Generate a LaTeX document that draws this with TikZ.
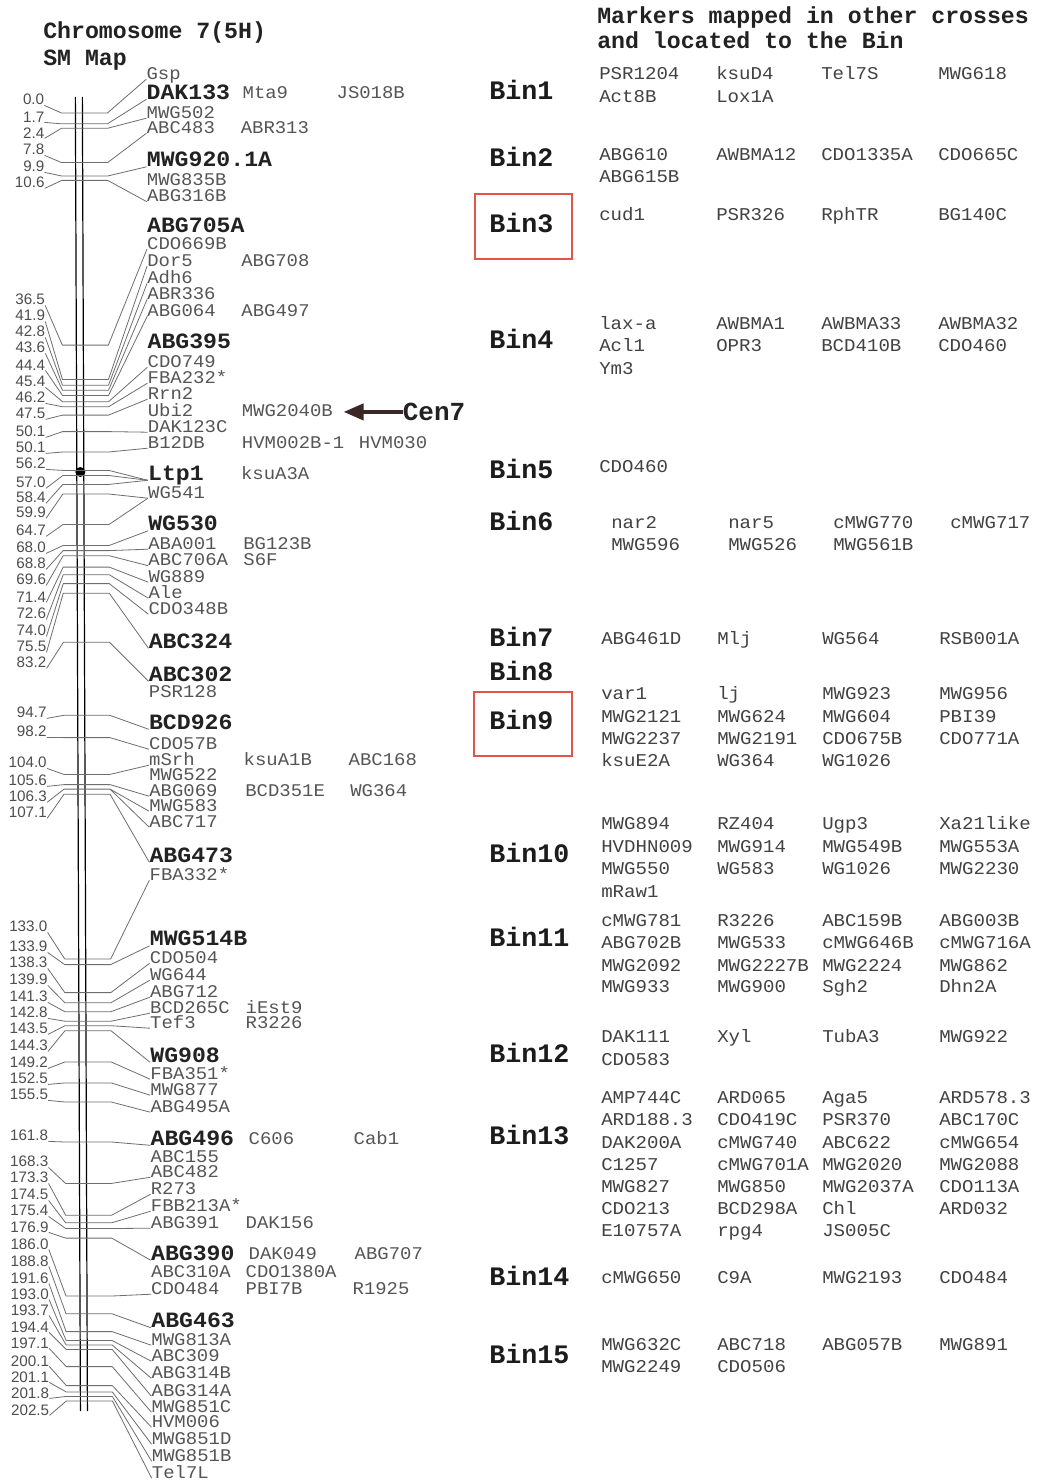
\documentclass[tikz,border=0pt]{standalone}
\usepackage{fontspec}
\setmainfont{Liberation Mono}
\newfontfamily\mapfont[FakeStretch=1.06]{Liberation Mono}
\newfontfamily\sansnum{Liberation Sans}
\usetikzlibrary{arrows.meta}
\definecolor{mapgray}{HTML}{555555}
\definecolor{mapdark}{HTML}{222222}
\definecolor{leadgray}{HTML}{6E6E6E}
\definecolor{numgray}{HTML}{4E4E4E}
\definecolor{rgray}{HTML}{424242}
\definecolor{bindark}{HTML}{1C1C1C}
\definecolor{boxred}{HTML}{E2554A}
\definecolor{arrowbrown}{HTML}{3B2725}
\tikzset{
  num/.style={font=\sansnum\fontsize{11.4}{12}\selectfont, text=numgray, anchor=south east, inner sep=0pt},
  nm/.style={font=\mapfont\fontsize{13.4}{14}\selectfont, text=mapgray, anchor=base west, inner sep=0pt},
  nmb/.style={font=\mapfont\bfseries\fontsize{16.4}{17}\selectfont, text=mapdark, anchor=base west, inner sep=0pt},
  lead/.style={draw=leadgray, line width=0.6pt, line join=round},
  chrom/.style={draw=black, line width=0.9pt},
  rt/.style={font=\mapfont\fontsize{13.5}{14}\selectfont, text=rgray, anchor=base west, inner sep=0pt},
  binlab/.style={font=\bfseries\fontsize{20}{21}\selectfont, text=bindark, anchor=base west, inner sep=0pt},
  head/.style={font=\bfseries\fontsize{17.4}{18}\selectfont, text=mapdark, anchor=base west, inner sep=0pt},
  cenlab/.style={font=\bfseries\fontsize{19.5}{20}\selectfont, text=mapdark, anchor=base west, inner sep=0pt},
  redbox/.style={draw=boxred, line width=1.2pt},
}
\newcommand\MkN[3]{\node[nm] (#1) at (146,#3+5.2) {#2};}
\newcommand\MkB[3]{\node[nmb] (#1) at (146,#3+6.3) {#2};}
\newcommand\MkX[4]{\node[nm] (#1) at (#3,#4+5.2) {#2};}
\newcommand\MkT[5]{\node[num] (#1) at (44,#3+5.4) {#2};
  \draw[lead] (#1.south east) -- (61,#4) -- (107,#4) -- (#5.base west);}
\newcommand\BinL[3]{\node[binlab] (#1) at (489,#3+7.6) {#2};}
\newcommand\RRow[3]{\foreach \xx/\mt [count=\ii] in {#3} {\node[rt] (#1-\ii) at (\xx,#2+5.3) {\mt};}}
\begin{document}
\begin{tikzpicture}[x=0.75pt,y=-0.75pt]
\useasboundingbox (0,0) rectangle (1036,1480);
\fill[white] (0,0) rectangle (1036,1480);
% titles
\node[head] (c1) at (43,39) {Chromosome 7(5H)};
\node[head] (c2) at (43,66) {SM Map};
\node[head] (h1) at (597,24) {Markers mapped in other crosses};
\node[head] (h2) at (597,49) {and located to the Bin};
\begin{scope}[xslant=-0.00385]
% chromosome
\draw[chrom] (75,97) -- (75,1411);
\draw[chrom] (82,97) -- (82,1411);
\fill[black] (78.5,472) circle[radius=5];
% marker names
\MkN{Gsp}{Gsp}{74}
\MkB{DAK133}{DAK133}{93}
\MkX{Mta9}{Mta9}{242}{93}
\MkX{JS018B}{JS018B}{336}{93}
\MkN{MWG502}{MWG502}{113}
\MkN{ABC483}{ABC483}{128}
\MkX{ABR313}{ABR313}{240}{128}
\MkB{MWG920}{MWG920.1A}{160.5}
\MkN{MWG835B}{MWG835B}{180}
\MkN{ABG316B}{ABG316B}{196.5}
\MkB{ABG705A}{ABG705A}{226}
\MkN{CDO669B}{CDO669B}{244}
\MkN{Dor5}{Dor5}{261}
\MkX{ABG708}{ABG708}{240}{261}
\MkN{Adh6}{Adh6}{278}
\MkN{ABR336}{ABR336}{294}
\MkN{ABG064}{ABG064}{311}
\MkX{ABG497}{ABG497}{240}{311}
\MkB{ABG395}{ABG395}{342.5}
\MkN{CDO749}{CDO749}{362}
\MkN{FBAa}{FBA232*}{378}
\MkN{Rrn2}{Rrn2}{394}
\MkN{Ubi2}{Ubi2}{411}
\MkX{MWG2040B}{MWG2040B}{240}{411}
\MkN{DAK123C}{DAK123C}{427}
\MkN{B12DB}{B12DB}{443}
\MkX{HVM002B}{HVM002B-1}{240}{443}
\MkX{HVM030}{HVM030}{357}{443}
\MkB{Ltp1}{Ltp1}{474}
\MkX{ksuA3A}{ksuA3A}{239}{474}
\MkN{WG541}{WG541}{493}
\MkB{WG530}{WG530}{524.5}
\MkN{ABA001}{ABA001}{544}
\MkX{BG123B}{BG123B}{241}{544}
\MkN{ABC706A}{ABC706A}{560.5}
\MkX{S6F}{S6F}{241}{560.5}
\MkN{WG889}{WG889}{577}
\MkN{Ale}{Ale}{593}
\MkN{CDO348B}{CDO348B}{609}
\MkB{ABC324}{ABC324}{642}
\MkB{ABC302}{ABC302}{675}
\MkN{PSR128}{PSR128}{692.5}
\MkB{BCD926}{BCD926}{723}
\MkN{CDO57B}{CDO57B}{744}
\MkN{mSrh}{mSrh}{760}
\MkX{ksuA1B}{ksuA1B}{240.5}{760}
\MkX{ABC168}{ABC168}{345.5}{760}
\MkN{MWG522}{MWG522}{775}
\MkN{ABG069}{ABG069}{791}
\MkX{BCD351E}{BCD351E}{242}{791}
\MkX{WGt364}{WG364}{347}{791}
\MkN{MWG583}{MWG583}{806}
\MkN{ABC717}{ABC717}{822}
\MkB{ABG473}{ABG473}{856}
\MkN{FBAb}{FBA332*}{875}
\MkB{MWG514B}{MWG514B}{939.5}
\MkN{CDO504}{CDO504}{958}
\MkN{WG644}{WG644}{975}
\MkN{ABG712}{ABG712}{992}
\MkN{BCD265C}{BCD265C}{1008}
\MkX{iEst9}{iEst9}{241.5}{1008}
\MkN{Tef3}{Tef3}{1023}
\MkX{R3226m}{R3226}{241.5}{1023}
\MkB{WG908}{WG908}{1056}
\MkN{FBAc}{FBA351*}{1074}
\MkN{MWG877}{MWG877}{1090}
\MkN{ABG495A}{ABG495A}{1107}
\MkB{ABG496}{ABG496}{1139}
\MkX{C606}{C606}{244}{1139}
\MkX{Cab1}{Cab1}{349}{1139}
\MkN{ABC155}{ABC155}{1157}
\MkN{ABC482}{ABC482}{1172}
\MkN{R273}{R273}{1189}
\MkN{FBB213A}{FBB213A*}{1206}
\MkN{ABG391}{ABG391}{1223}
\MkX{DAK156}{DAK156}{240.7}{1223}
\MkB{ABG390}{ABG390}{1254}
\MkX{DAK049}{DAK049}{243.6}{1254}
\MkX{ABG707}{ABG707}{349.6}{1254}
\MkN{ABC310A}{ABC310A}{1272}
\MkX{CDO1380A}{CDO1380A}{240.5}{1272}
\MkN{CDO484}{CDO484}{1289}
\MkX{PBI7B}{PBI7B}{240.5}{1289}
\MkX{R1925}{R1925}{347.4}{1289}
\MkB{ABG463}{ABG463}{1321.5}
\MkN{MWG813A}{MWG813A}{1340}
\MkN{ABC309}{ABC309}{1356}
\MkN{ABG314B}{ABG314B}{1373}
\MkN{ABG314A}{ABG314A}{1391}
\MkN{MWG851C}{MWG851C}{1407}
\MkN{HVM006}{HVM006}{1422}
\MkN{MWG851D}{MWG851D}{1439}
\MkN{MWG851B}{MWG851B}{1456}
\MkN{Tel7L}{Tel7L}{1473}
% ticks and leaders
\MkT{t1}{0.0}{100}{113}{Gsp}
\MkT{t2}{1.7}{117}{123.8}{DAK133}
\MkT{t3}{2.4}{133}{128.3}{MWG502}
\MkT{t4}{7.8}{150}{162.6}{ABC483}
\MkT{t5}{9.9}{167}{176}{MWG920}
\MkT{t6}{10.6}{183}{180.4}{ABG316B}
\MkT{t7}{36.5}{300}{345.1}{CDO669B}
\MkT{t8}{41.9}{316}{379.5}{Dor5}
\MkT{t9}{42.8}{332}{385.2}{Adh6}
\MkT{t10}{43.6}{348}{390.3}{ABR336}
\MkT{t11}{44.4}{365}{395.4}{ABG064}
\MkT{t12}{45.4}{382}{401.7}{CDO749}
\MkT{t13}{46.2}{398}{406.8}{FBAa}
\MkT{t14}{47.5}{414}{415.1}{Rrn2}
\MkT{t15}{50.1}{432}{431.6}{DAK123C}
\MkT{t16}{50.1}{448}{452}{B12DB}
\MkT{t17}{56.2}{464}{470.4}{Ltp1}
\MkT{t18}{57.0}{483}{475.5}{Ltp1}
\MkT{t19}{58.4}{498}{484.4}{Ltp1}
\MkT{t20}{59.9}{513}{494}{WG541}
\MkT{t21}{64.7}{531}{524.5}{WG541}
\MkT{t22}{68.0}{548}{545.5}{WG530}
\MkT{t23}{68.8}{564}{550.6}{ABA001}
\MkT{t24}{69.6}{580}{555.7}{ABC706A}
\MkT{t25}{71.4}{597}{567.1}{WG889}
\MkT{t26}{72.6}{614}{574.7}{Ale}
\MkT{t27}{74.0}{631}{583.6}{CDO348B}
\MkT{t28}{75.5}{647}{593.2}{ABC324}
\MkT{t29}{83.2}{663}{642.2}{ABC302}
\MkT{t30}{94.7}{713}{715.3}{BCD926}
\MkT{t31}{98.2}{732}{737.6}{CDO57B}
\MkT{t32}{104.0}{763}{774.4}{mSrh}
\MkT{t33}{105.6}{781}{784.6}{ABG069}
\MkT{t34}{106.3}{797}{789.1}{MWG583}
\MkT{t35}{107.1}{813}{794.2}{ABG473}
\coordinate (t34r) at (107,789.1);
\draw[lead] (t34r) -- (ABC717.base west);
\MkT{t36}{133.0}{927}{958.9}{FBAb}
\MkT{t37}{133.9}{947}{964.6}{MWG514B}
\MkT{t38}{138.3}{963}{992.6}{CDO504}
\MkT{t39}{139.9}{980}{1002.8}{WG644}
\MkT{t40}{141.3}{997}{1011.7}{ABG712}
\MkT{t41}{142.8}{1013}{1021.2}{BCD265C}
\MkT{t42}{143.5}{1029}{1025.7}{Tef3}
\MkT{t43}{144.3}{1046}{1030.7}{WG908}
\MkT{t44}{149.2}{1063}{1061.9}{FBAc}
\MkT{t45}{152.5}{1079}{1082.9}{MWG877}
\MkT{t46}{155.5}{1095}{1102}{ABG495A}
\MkT{t47}{161.8}{1136}{1142}{ABG496}
\MkT{t48}{168.3}{1162}{1183.4}{ABC482}
\MkT{t49}{173.3}{1178}{1215.2}{R273}
\MkT{t50}{174.5}{1195}{1222.8}{FBB213A}
\MkT{t51}{175.4}{1211}{1228.5}{ABG391}
\MkT{t52}{176.9}{1227}{1238.1}{ABG390}
\MkT{t53}{186.0}{1244}{1296}{CDO484}
\MkT{t54}{188.8}{1261}{1313.8}{ABG463}
\MkT{t55}{191.6}{1278}{1331.6}{MWG813A}
\MkT{t56}{193.0}{1294}{1340.5}{ABC309}
\MkT{t57}{193.7}{1310}{1345}{ABG314B}
\MkT{t58}{194.4}{1327}{1349.4}{ABG314A}
\MkT{t59}{197.1}{1343}{1366.6}{MWG851C}
\MkT{t60}{200.1}{1361}{1385.6}{HVM006}
\MkT{t61}{201.1}{1377}{1392}{MWG851D}
\MkT{t62}{201.8}{1393}{1396.4}{MWG851B}
\MkT{t63}{202.5}{1410}{1400.9}{Tel7L}
% centromere arrow
\node[cenlab] (cen) at (401,420.5) {Cen7};
\coordinate (cenTip) at (342,412);
\draw[draw=arrowbrown, line width=3pt, -{Triangle[length=15pt,width=12pt]}] (cen.west) -- (cen.west -| cenTip);
\end{scope}
% bins
\draw[redbox] (475,194) rectangle (572,259);
\draw[redbox] (474,692) rectangle (572,756);
\BinL{bin1}{Bin1}{91.5}
\RRow{b1a}{74.5}{599/PSR1204,716/ksuD4,821/Tel7S,938/MWG618}
\RRow{b1b}{97.5}{599/Act8B,716/Lox1A}
\BinL{bin2}{Bin2}{159}
\RRow{b2a}{155}{599/ABG610,716/AWBMA12,821/CDO1335A,938/CDO665C}
\RRow{b2b}{177.5}{599/ABG615B}
\BinL{bin3}{Bin3}{225}
\RRow{b3a}{215}{599/cud1,716/PSR326,821/RphTR,938/BG140C}
\BinL{bin4}{Bin4}{341}
\RRow{b4a}{324}{599/lax-a,716/AWBMA1,821/AWBMA33,938/AWBMA32}
\RRow{b4b}{346}{599/Acl1,716/OPR3,821/BCD410B,938/CDO460}
\RRow{b4c}{369}{599/Ym3}
\BinL{bin5}{Bin5}{471}
\RRow{b5a}{467.5}{599/CDO460}
\BinL{bin6}{Bin6}{523}
\RRow{b6a}{523}{611/nar2,728/nar5,833/cMWG770,950/cMWG717}
\RRow{b6b}{545}{611/MWG596,728/MWG526,833/MWG561B}
\BinL{bin7}{Bin7}{639}
\RRow{b7a}{639}{601/ABG461D,717/Mlj,822/WG564,939/RSB001A}
\BinL{bin8}{Bin8}{673}
\BinL{bin9}{Bin9}{722}
\RRow{b9a}{694}{601/var1,717/lj,822/MWG923,939/MWG956}
\RRow{b9b}{717}{601/MWG2121,717/MWG624,822/MWG604,939/PBI39}
\RRow{b9c}{739}{601/MWG2237,717/MWG2191,822/CDO675B,939/CDO771A}
\RRow{b9d}{761}{601/ksuE2A,717/WG364,822/WG1026}
\BinL{bin10}{Bin10}{855}
\RRow{b10a}{824}{601/MWG894,717/RZ404,822/Ugp3,939/Xa21like}
\RRow{b10b}{847}{601/HVDHN009,717/MWG914,822/MWG549B,939/MWG553A}
\RRow{b10c}{869}{601/MWG550,717/WG583,822/WG1026,939/MWG2230}
\RRow{b10d}{892}{601/mRaw1}
\BinL{bin11}{Bin11}{939}
\RRow{b11a}{921}{601/cMWG781,717/R3226,822/ABC159B,939/ABG003B}
\RRow{b11b}{943}{601/ABG702B,717/MWG533,822/cMWG646B,939/cMWG716A}
\RRow{b11c}{966}{601/MWG2092,717/MWG2227B,822/MWG2224,939/MWG862}
\RRow{b11d}{987}{601/MWG933,717/MWG900,822/Sgh2,939/Dhn2A}
\BinL{bin12}{Bin12}{1055}
\RRow{b12a}{1037}{601/DAK111,717/Xyl,822/TubA3,939/MWG922}
\RRow{b12b}{1060}{601/CDO583}
\BinL{bin13}{Bin13}{1137}
\RRow{b13a}{1098}{601/AMP744C,717/ARD065,822/Aga5,939/ARD578.3}
\RRow{b13b}{1120}{601/ARD188.3,717/CDO419C,822/PSR370,939/ABC170C}
\RRow{b13c}{1143}{601/DAK200A,717/cMWG740,822/ABC622,939/cMWG654}
\RRow{b13d}{1165}{601/C1257,717/cMWG701A,822/MWG2020,939/MWG2088}
\RRow{b13e}{1187}{601/MWG827,717/MWG850,822/MWG2037A,939/CDO113A}
\RRow{b13f}{1209}{601/CDO213,717/BCD298A,822/Chl,939/ARD032}
\RRow{b13g}{1231}{601/E10757A,717/rpg4,822/JS005C}
\BinL{bin14}{Bin14}{1278}
\RRow{b14a}{1278}{601/cMWG650,717/C9A,822/MWG2193,939/CDO484}
\BinL{bin15}{Bin15}{1356}
\RRow{b15a}{1345}{601/MWG632C,717/ABC718,822/ABG057B,939/MWG891}
\RRow{b15b}{1367}{601/MWG2249,717/CDO506}
\end{tikzpicture}
\end{document}
